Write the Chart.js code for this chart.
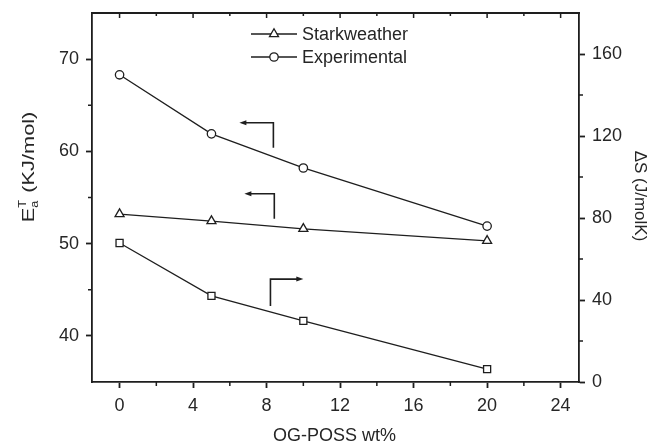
<!DOCTYPE html>
<html>
<head>
<meta charset="utf-8">
<script src="https://cdn.jsdelivr.net/npm/chart.js@4/dist/chart.umd.min.js"></script>
<style>
  html, body { margin: 0; padding: 0; background: #ffffff; }
  canvas { display: block; }
</style>
</head>
<body>
<canvas id="chart" width="649" height="444"></canvas>
<script>
// OG-POSS loading (wt%)
const X_VALUES = [0, 5, 10, 20];
// Activation energy E_a (kJ/mol), left axis
const STARKWEATHER = [53.2, 52.45, 51.6, 50.3];
const EXPERIMENTAL = [68.3, 61.9, 58.2, 51.9];
// Entropy change ΔS (J/molK), right axis
const ENTROPY = [67.8, 42.0, 29.8, 6.3];

// Axis ticks
const X_TICKS = [0, 4, 8, 12, 16, 20, 24];
const X_MINOR = [2, 6, 10, 14, 18, 22];
const E_TICKS = [40, 50, 60, 70];
const E_MINOR = [45, 55, 65];
const S_TICKS = [0, 40, 80, 120, 160];
const S_MINOR = [20, 60, 100, 140];

// Arrows telling which axis each curve belongs to (data units)
const ARROWS = [
  { axis: 'y',  x: 8.37, yFrom: 60.4, yTo: 63.1, tipX: 6.52 },
  { axis: 'y',  x: 8.42, yFrom: 52.7, yTo: 55.4, tipX: 6.79 },
  { axis: 'y2', x: 8.21, yFrom: 37.1, yTo: 50.2, tipX: 10.0 }
];

const INK = '#1e1e1e';
const TEXT = '#262626';
const FONT = "'Liberation Sans', Arial, sans-serif";

const toPoints = (ys) => X_VALUES.map((x, i) => ({ x, y: ys[i] }));

function markerStyle(style, radius) {
  return {
    pointStyle: style,
    pointRadius: radius,
    pointHoverRadius: radius,
    pointBackgroundColor: '#ffffff',
    pointBorderColor: INK,
    pointBorderWidth: 1.3,
    borderColor: INK,
    borderWidth: 1.3,
    backgroundColor: '#ffffff',
    fill: false,
    tension: 0
  };
}

const tickList = (arr) => (scale) => { scale.ticks = arr.map(v => ({ value: v })); };

function axisCommon() {
  return {
    grid: { display: true, drawOnChartArea: false, drawTicks: true, tickLength: 6, tickWidth: 1.8, tickColor: INK },
    border: { display: true, color: INK, width: 1.8 },
    ticks: { color: TEXT, font: { family: FONT, size: 18 }, padding: 7 }
  };
}

// fixed axis band sizes, with no extra label overhang padding
const fitBand = (prop, size) => (s) => {
  s[prop] = size;
  s.paddingTop = 0; s.paddingBottom = 0; s.paddingLeft = 0; s.paddingRight = 0;
};

const decorations = {
  id: 'decorations',
  afterDraw(chart) {
    const ctx = chart.ctx;
    const area = chart.chartArea;
    const sx = chart.scales.x, sy = chart.scales.y, s2 = chart.scales.y2;
    ctx.save();
    ctx.strokeStyle = INK;
    ctx.fillStyle = INK;

    // top frame line with inward ticks
    ctx.lineWidth = 1.8;
    ctx.beginPath();
    ctx.moveTo(area.left - 1, area.top);
    ctx.lineTo(area.right + 1, area.top);
    ctx.stroke();
    ctx.lineWidth = 1.5;
    ctx.beginPath();
    X_TICKS.forEach(v => { const px = sx.getPixelForValue(v); ctx.moveTo(px, area.top); ctx.lineTo(px, area.top + 5); });
    X_MINOR.forEach(v => { const px = sx.getPixelForValue(v); ctx.moveTo(px, area.top); ctx.lineTo(px, area.top + 3); });
    ctx.stroke();

    // minor ticks on the outer axes
    ctx.beginPath();
    X_MINOR.forEach(v => { const px = sx.getPixelForValue(v); ctx.moveTo(px, area.bottom); ctx.lineTo(px, area.bottom + 4); });
    E_MINOR.forEach(v => { const py = sy.getPixelForValue(v); ctx.moveTo(area.left, py); ctx.lineTo(area.left - 4, py); });
    S_MINOR.forEach(v => { const py = s2.getPixelForValue(v); ctx.moveTo(area.right, py); ctx.lineTo(area.right + 4, py); });
    ctx.stroke();

    // axis-pointing arrows
    ctx.lineWidth = 1.6;
    ARROWS.forEach(a => {
      const ys = chart.scales[a.axis];
      const px = sx.getPixelForValue(a.x);
      const pyFrom = ys.getPixelForValue(a.yFrom);
      const pyTo = ys.getPixelForValue(a.yTo);
      const tip = sx.getPixelForValue(a.tipX);
      const dir = tip < px ? -1 : 1;
      ctx.beginPath();
      ctx.moveTo(px, pyFrom);
      ctx.lineTo(px, pyTo);
      ctx.lineTo(tip - dir * 5, pyTo);
      ctx.stroke();
      ctx.beginPath();
      ctx.moveTo(tip, pyTo);
      ctx.lineTo(tip - dir * 7, pyTo - 2.5);
      ctx.lineTo(tip - dir * 7, pyTo + 2.5);
      ctx.closePath();
      ctx.fill();
    });

    // legend
    const legendItems = [
      { label: 'Starkweather', style: 'triangle', radius: 5.2 },
      { label: 'Experimental', style: 'circle', radius: 4.2 }
    ];
    ctx.font = '18px ' + FONT;
    ctx.textBaseline = 'middle';
    ctx.textAlign = 'left';
    legendItems.forEach((item, i) => {
      const y = area.top + 21 + i * 23;
      const x0 = area.left + 159;
      ctx.lineWidth = 1.3;
      ctx.strokeStyle = INK;
      ctx.beginPath();
      ctx.moveTo(x0, y);
      ctx.lineTo(x0 + 46, y);
      ctx.stroke();
      ctx.fillStyle = '#ffffff';
      Chart.helpers.drawPoint(ctx, { pointStyle: item.style, radius: item.radius, borderWidth: 1.3 }, x0 + 23, y);
      ctx.fillStyle = TEXT;
      ctx.fillText(item.label, x0 + 51, y + 1);
    });

    // x-axis title
    ctx.fillStyle = TEXT;
    ctx.textAlign = 'center';
    ctx.textBaseline = 'middle';
    ctx.font = '18px ' + FONT;
    ctx.fillText('OG-POSS wt%', (area.left + area.right) / 2 - 1, 436);

    // left title: E with superscript T and subscript a
    ctx.save();
    ctx.translate(28, 167);
    ctx.rotate(-Math.PI / 2);
    ctx.scale(1.28, 1);
    const big = '17px ' + FONT, small = '10px ' + FONT;
    ctx.font = big; const wE = ctx.measureText('E').width;
    ctx.font = small; const wT = ctx.measureText('T').width; const wA = ctx.measureText('a').width;
    ctx.font = big; const wRest = ctx.measureText(' (KJ/mol)').width;
    const total = wE + Math.max(wT, wA) + 1 + wRest;
    let cx = -total / 2;
    ctx.textAlign = 'left';
    ctx.textBaseline = 'alphabetic';
    ctx.font = big; ctx.fillText('E', cx, 6); cx += wE;
    ctx.font = small; ctx.fillText('T', cx, -2); ctx.fillText('a', cx, 10); cx += Math.max(wT, wA) + 1;
    ctx.font = big; ctx.fillText(' (KJ/mol)', cx, 6);
    ctx.restore();

    // right title
    ctx.save();
    ctx.translate(640, 196);
    ctx.rotate(Math.PI / 2);
    ctx.font = '17px ' + FONT;
    ctx.textAlign = 'center';
    ctx.textBaseline = 'middle';
    ctx.fillText('ΔS (J/molK)', 0, 0);
    ctx.restore();

    ctx.restore();
  }
};

new Chart(document.getElementById('chart'), {
  type: 'line',
  data: {
    datasets: [
      Object.assign({ label: 'Starkweather', data: toPoints(STARKWEATHER), yAxisID: 'y' }, markerStyle('triangle', 5.2)),
      Object.assign({ label: 'Experimental', data: toPoints(EXPERIMENTAL), yAxisID: 'y' }, markerStyle('circle', 4.2)),
      Object.assign({ label: 'ΔS', data: toPoints(ENTROPY), yAxisID: 'y2' }, markerStyle('rect', 5))
    ]
  },
  options: {
    responsive: false,
    animation: false,
    layout: { padding: { top: 13, left: 0, right: 0, bottom: 0 } },
    plugins: { legend: { display: false }, tooltip: { enabled: false } },
    scales: {
      x: Object.assign(axisCommon(), {
        type: 'linear', position: 'bottom', min: -1.5, max: 25,
        afterBuildTicks: tickList(X_TICKS),
        afterFit: fitBand('height', 62)
      }),
      y: Object.assign(axisCommon(), {
        type: 'linear', position: 'left', min: 35, max: 75,
        afterBuildTicks: tickList(E_TICKS),
        afterFit: fitBand('width', 92)
      }),
      y2: Object.assign(axisCommon(), {
        type: 'linear', position: 'right', min: 0, max: 180,
        afterBuildTicks: tickList(S_TICKS),
        afterFit: fitBand('width', 70)
      })
    }
  },
  plugins: [decorations]
});
</script>
</body>
</html>
